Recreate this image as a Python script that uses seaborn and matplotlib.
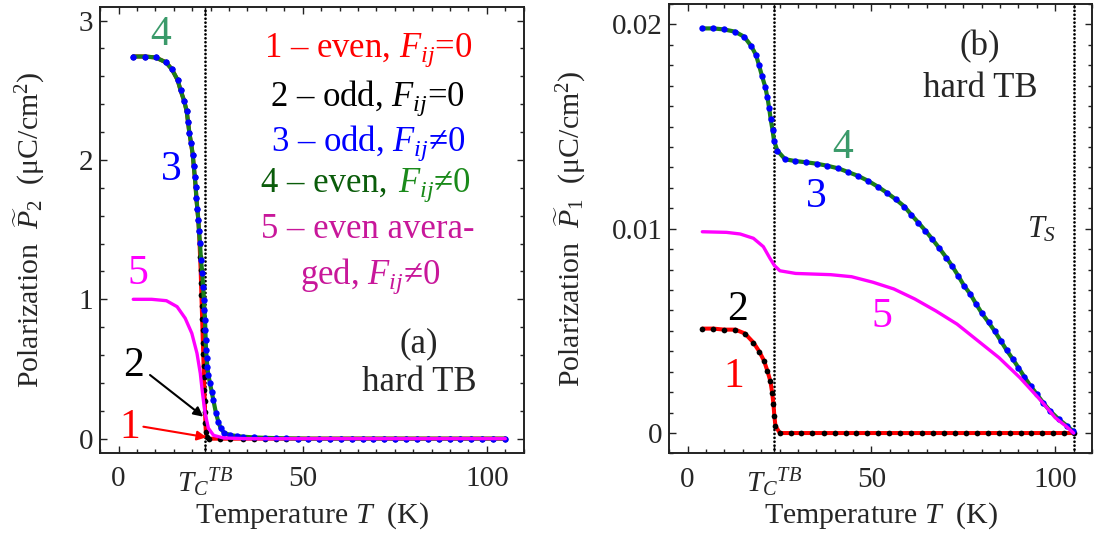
import matplotlib
matplotlib.use("Agg")
import matplotlib.pyplot as plt
from matplotlib.ticker import MultipleLocator, FuncFormatter
from matplotlib.offsetbox import TextArea, HPacker, AnnotationBbox
import seaborn as sns

# ---------------- panel (a): P2 ----------------
# curves 3 & 4 (odd / even, F_ij != 0)
a_T_fij = [4.0, 7.1, 10.1, 12.9, 14.5, 16.05, 16.85, 17.8, 18.5, 18.87, 19.23, 19.7,
           20.15, 20.42, 20.7, 20.95, 21.15, 21.4, 21.67, 21.85, 22.12, 22.39, 22.75,
           22.94, 23.21, 23.3, 23.48, 23.57, 23.66, 23.75, 23.93, 24.11, 24.38, 24.84,
           25.29, 25.74, 26.47, 27.1, 27.73, 28.64, 30.27, 32.08, 33.9, 36.8, 39.7,
           42.7, 45.6, 48.6, 51.5, 54.5, 57.4, 60.4, 63.3, 66.3, 69.2, 72.2, 75.1, 78.1,
           81.0, 84.0, 86.9, 89.9, 92.8, 95.8, 98.7, 101.7, 104.9]
a_P_fij = [2.742, 2.742, 2.735, 2.700, 2.650, 2.573, 2.500, 2.425, 2.351, 2.274, 2.195,
           2.119, 2.037, 1.958, 1.879, 1.803, 1.724, 1.647, 1.569, 1.490, 1.402, 1.282,
           1.186, 1.090, 0.995, 0.924, 0.852, 0.780, 0.708, 0.636, 0.577, 0.517, 0.457,
           0.397, 0.337, 0.278, 0.182, 0.122, 0.075, 0.043, 0.026, 0.019, 0.014, 0.009,
           0.006, 0.004, 0.002, 0.001, 0.0, 0.0, 0.0, 0.0, 0.0, 0.0, 0.0, 0.0, 0.0, 0.0,
           0.0, 0.0, 0.0, 0.0, 0.0, 0.0, 0.0, 0.0, 0.0]
# curves 1 & 2 (even / odd, F_ij = 0)
a_T_f0 = [4.0, 7.1, 10.1, 12.9, 14.5, 16.05, 16.85, 17.8, 18.5, 18.87, 19.23, 19.7,
          20.15, 20.42, 20.7, 20.95, 21.15, 21.4, 21.67, 21.85, 22.0, 22.15, 22.3, 22.4,
          22.5, 22.6, 22.7, 22.8, 22.9, 23.0, 23.1, 23.2, 23.3, 23.4, 23.5, 23.6, 23.7,
          23.9, 24.6, 27.6, 30.3, 33.9, 36.8, 39.7, 42.7, 45.6, 48.6, 51.5, 54.5, 57.4,
          60.4, 63.3, 66.3, 69.2, 72.2, 75.1, 78.1, 81.0, 84.0, 86.9, 89.9, 92.8, 95.8,
          98.7, 101.7, 104.9]
a_P_f0 = [2.742, 2.742, 2.735, 2.700, 2.650, 2.573, 2.500, 2.425, 2.351, 2.274, 2.195,
          2.119, 2.037, 1.958, 1.879, 1.803, 1.724, 1.647, 1.569, 1.490, 1.40, 1.30, 1.21,
          1.12, 1.03, 0.95, 0.86, 0.78, 0.69, 0.61, 0.52, 0.44, 0.35, 0.27, 0.19, 0.11,
          0.05, 0.01, 0.0, 0.0, 0.0, 0.0, 0.0, 0.0, 0.0, 0.0, 0.0, 0.0, 0.0, 0.0, 0.0,
          0.0, 0.0, 0.0, 0.0, 0.0, 0.0, 0.0, 0.0, 0.0, 0.0, 0.0, 0.0, 0.0, 0.0, 0.0]
# curve 5 (even averaged, F_ij != 0)
a_T_avg = [4.0, 9.0, 13.0, 15.9, 18.1, 19.9, 21.3, 22.2, 22.8, 23.5, 24.4, 25.8, 28.5, 35.0, 105.0]
a_P_avg = [1.0, 1.0, 0.99, 0.947, 0.864, 0.756, 0.613, 0.469, 0.326, 0.182, 0.075, 0.024,
           0.005, 0.0, 0.0]

# ---------------- panel (b): P1 ----------------
b_T_fij = [4.0, 7.0, 9.9, 12.9, 15.4, 17.3, 18.6, 19.4, 20.2, 21.1, 21.7, 22.2, 22.6, 23.1,
           23.5, 24.4, 26.5, 29.2, 32.2, 35.1, 38.0, 41.0, 43.7, 46.4, 49.1, 51.8, 54.2,
           56.6, 59.0, 60.9, 62.8, 64.7, 66.6, 68.5, 70.4, 71.9, 73.6, 75.2, 76.9, 78.5,
           80.1, 81.9, 83.5, 85.2, 86.8, 88.5, 90.0, 91.6, 93.3, 95.0, 96.7, 98.6, 101.0,
           103.3, 104.8]
b_P_fij = [0.01980, 0.01980, 0.01975, 0.01964, 0.01939, 0.01894, 0.01850, 0.01801, 0.01749,
           0.01695, 0.01643, 0.01589, 0.01535, 0.01483, 0.01431, 0.01382, 0.01340, 0.01331,
           0.01325, 0.01318, 0.01308, 0.01295, 0.01277, 0.01258, 0.01234, 0.01205, 0.01176,
           0.01144, 0.01108, 0.01067, 0.01029, 0.00990, 0.00948, 0.00904, 0.00858, 0.00819,
           0.00770, 0.00721, 0.00680, 0.00631, 0.00585, 0.00541, 0.00500, 0.00451, 0.00405,
           0.00361, 0.00320, 0.00275, 0.00230, 0.00190, 0.00149, 0.00108, 0.00067, 0.00034,
           0.00010]
b_T_f0 = [4.0, 7.0, 10.0, 13.0, 15.6, 17.9, 19.5, 20.8, 21.7, 22.5, 23.0, 23.35, 23.6, 23.9,
          25.1, 28.0, 30.9, 33.9, 37.0, 40.0, 43.0, 45.9, 48.9, 51.9, 54.9, 57.8, 60.9,
          63.7, 66.8, 69.8, 72.7, 75.6, 78.7, 81.6, 84.6, 87.6, 90.6, 93.5, 96.5, 99.4,
          102.4, 105.0]
b_P_f0 = [0.00511, 0.00511, 0.00506, 0.00506, 0.00487, 0.00443, 0.00399, 0.00353, 0.00304,
          0.00255, 0.00198, 0.00141, 0.00083, 0.00034, 0.0, 0.0, 0.0, 0.0, 0.0, 0.0, 0.0,
          0.0, 0.0, 0.0, 0.0, 0.0, 0.0, 0.0, 0.0, 0.0, 0.0, 0.0, 0.0, 0.0, 0.0, 0.0, 0.0,
          0.0, 0.0, 0.0, 0.0, 0.0]
b_T_avg = [4.0, 10.6, 14.3, 17.9, 20.6, 22.4, 23.6, 25.1, 29.4, 38.9, 44.6, 50.4, 56.1, 61.8,
           67.5, 73.3, 79.0, 84.7, 90.4, 96.2, 100.0, 102.9, 105.0]
b_P_avg = [0.00985, 0.00982, 0.00974, 0.00953, 0.00912, 0.00855, 0.00820, 0.00794, 0.00781,
           0.00775, 0.00765, 0.00738, 0.00705, 0.00656, 0.00598, 0.00533, 0.00451, 0.00369,
           0.00271, 0.00157, 0.00075, 0.00034, 0.0]

T_C = 23.5
T_S = 105.2
x_ticks = [0, T_C, 50, 100]
x_ticklabels = ["0", r"${T_C}^{TB}$", "50", "100"]

RED, BLACK, BLUE, GREEN, MAGENTA = "#ff0000", "#000000", "#0000ff", "#1a7d1a", "#ff00ff"
SERIF = "Liberation Serif"
DOTTED = (0, (0.01, 1.4))

sns.set_theme(style="ticks")
plt.rcParams.update({
    "font.family": [SERIF, "DejaVu Serif"],
    "mathtext.fontset": "custom",
    "mathtext.rm": SERIF,
    "mathtext.it": SERIF + ":italic",
    "mathtext.bf": SERIF + ":bold",
    "axes.linewidth": 1.4,
    "axes.edgecolor": "#222222",
    "xtick.direction": "in",
    "ytick.direction": "in",
})

fig = plt.figure(figsize=(11, 5.33), dpi=100)
ax_a = fig.add_axes([0.0910, 0.1508, 0.3851, 0.8368])
ax_b = fig.add_axes([0.6084, 0.1492, 0.3843, 0.8435])


def draw_curves(ax, T_f0, P_f0, T_fij, P_fij, T_avg, P_avg):
    sns.lineplot(x=T_f0, y=P_f0, ax=ax, color=RED, linewidth=2.9, sort=False,
                 estimator=None, legend=False, zorder=2)
    sns.scatterplot(x=T_f0, y=P_f0, ax=ax, color=BLACK, s=17, linewidth=0,
                    legend=False, zorder=3)
    sns.lineplot(x=T_fij, y=P_fij, ax=ax, color=GREEN, linewidth=3.0, sort=False,
                 estimator=None, legend=False, zorder=4)
    sns.scatterplot(x=T_fij, y=P_fij, ax=ax, color=BLUE, s=21, linewidth=0,
                    legend=False, zorder=5)
    sns.lineplot(x=T_avg, y=P_avg, ax=ax, color=MAGENTA, linewidth=2.4, sort=False,
                 estimator=None, legend=False, zorder=6)


def vline(ax, x):
    ax.axvline(x, color="black", linestyle=DOTTED, linewidth=2.0,
               dash_capstyle="round", zorder=1)


def style_axes(ax, ylim, ymajor, yminor, ylabel, label_x):
    ax.set_xlim(-5, 110)
    ax.set_ylim(*ylim)
    ax.set_xticks(x_ticks)
    ax.set_xticklabels(x_ticklabels)
    ax.xaxis.set_minor_locator(MultipleLocator(5))
    ax.yaxis.set_major_locator(MultipleLocator(ymajor))
    ax.yaxis.set_minor_locator(MultipleLocator(yminor))
    ax.tick_params(which="both", direction="in", top=True, right=True, width=1.0,
                   color="#222222", labelsize=21, labelfontfamily=SERIF)
    ax.tick_params(which="major", length=5)
    ax.tick_params(which="minor", length=2.6)
    ax.tick_params(axis="x", pad=9.5)
    ax.tick_params(axis="y", pad=5)
    ax.set_xlabel(r"Temperature $T$  (K)", fontsize=21.5, labelpad=1)
    ax.set_ylabel(ylabel, fontsize=21.5)
    ax.yaxis.set_label_coords(label_x, 0.5)
    for sp in ax.spines.values():
        sp.set_visible(True)
    vline(ax, T_C)


def colored_line(ax, x, y, parts, size):
    boxes = [TextArea(s, textprops=dict(color=c, fontsize=size)) for s, c in parts]
    pack = HPacker(children=boxes, align="baseline", pad=0, sep=8)
    ab = AnnotationBbox(pack, (x, y), xycoords="data", frameon=False,
                        box_alignment=(0.5, 0.5), pad=0)
    ax.add_artist(ab)


# ---------------- panel (a) ----------------
draw_curves(ax_a, a_T_f0, a_P_f0, a_T_fij, a_P_fij, a_T_avg, a_P_avg)
style_axes(ax_a, (-0.1, 3.1), 1, 0.2,
           r"Polarization  $\widetilde{P}_2$  (μC/cm$^2$)", -0.125)

LEG = 25
ax_a.text(67.7, 2.788, r"1 – even, $F_{ij}$=0", color=RED, fontsize=LEG, ha="center", va="center")
ax_a.text(67.7, 2.444, r"2 – odd, $F_{ij}$=0", color=BLACK, fontsize=LEG, ha="center", va="center")
ax_a.text(67.7, 2.121, r"3 – odd, $F_{ij}$≠0", color=BLUE, fontsize=LEG, ha="center", va="center")
colored_line(ax_a, 67.2, 1.820, [("4 – even,", "#0a5c0a"), (r"$F_{ij}$≠0", "#1a8a1a")], LEG)
ax_a.text(67.7, 1.498, "5 – even avera-", color="#c8179a", fontsize=LEG, ha="center", va="center")
ax_a.text(68.3, 1.162, r"ged, $F_{ij}$≠0", color="#c8179a", fontsize=LEG, ha="center", va="center")

ax_a.text(81.6, 0.684, "(a)", fontsize=LEG, ha="center", va="center")
ax_a.text(81.6, 0.40, "hard TB", fontsize=LEG, ha="center", va="center")

NUM = 30
ax_a.text(11.5, 2.896, "4", color="#3a9a6a", fontsize=NUM, ha="center", va="center")
ax_a.text(14.25, 1.928, "3", color=BLUE, fontsize=NUM, ha="center", va="center")
ax_a.text(5.3, 1.18, "5", color=MAGENTA, fontsize=NUM, ha="center", va="center")
ax_a.text(4.2, 0.52, "2", color=BLACK, fontsize=NUM, ha="center", va="center")
ax_a.text(3.1, 0.077, "1", color=RED, fontsize=NUM, ha="center", va="center")
ax_a.annotate("", xy=(23.0, 0.158), xytext=(8.55, 0.457),
              arrowprops=dict(arrowstyle="-|>", color="black", lw=1.5,
                              mutation_scale=14, shrinkA=0, shrinkB=0), zorder=7)
ax_a.annotate("", xy=(23.9, 0.01), xytext=(6.75, 0.086),
              arrowprops=dict(arrowstyle="-|>", color=RED, lw=1.5,
                              mutation_scale=14, shrinkA=0, shrinkB=0), zorder=7)

# ---------------- panel (b) ----------------
draw_curves(ax_b, b_T_f0, b_P_f0, b_T_fij, b_P_fij, b_T_avg, b_P_avg)
style_axes(ax_b, (-0.001, 0.021), 0.01, 0.001,
           r"Polarization  $\widetilde{P}_1$  (μC/cm$^2$)", -0.192)
ax_b.yaxis.set_major_formatter(FuncFormatter(lambda v, p: "0" if abs(v) < 1e-9 else f"{v:.2f}"))
vline(ax_b, T_S)

ax_b.text(79.5, 0.01890, "(b)", fontsize=LEG, ha="center", va="center")
ax_b.text(79.5, 0.01687, "hard TB", fontsize=LEG, ha="center", va="center")
ax_b.text(96.2, 0.00994, r"$T_S$", fontsize=22, ha="center", va="center")
ax_b.text(42.3, 0.01395, "4", color="#3a9a6a", fontsize=NUM, ha="center", va="center")
ax_b.text(35.1, 0.01157, "3", color=BLUE, fontsize=NUM, ha="center", va="center")
ax_b.text(52.8, 0.00569, "5", color=MAGENTA, fontsize=NUM, ha="center", va="center")
ax_b.text(13.6, 0.00602, "2", color=BLACK, fontsize=NUM, ha="center", va="center")
ax_b.text(12.6, 0.00276, "1", color=RED, fontsize=NUM, ha="center", va="center")

fig.savefig("out.png", dpi=100)
